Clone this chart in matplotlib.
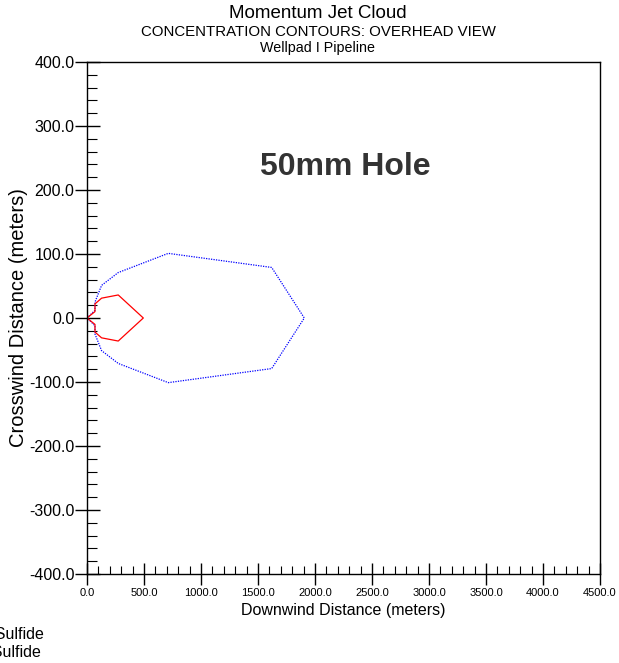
import matplotlib
matplotlib.use('Agg')
import matplotlib.pyplot as plt
import numpy as np

plt.rcParams['font.family'] = ['Liberation Sans', 'DejaVu Sans']

# contour outlines (downwind m, crosswind m), upper half
blue_x = [0, 70, 70, 128, 274, 713, 1620, 1906]
blue_y = [0, 12, 25, 51, 71, 101, 79, 0]
red_x = [0, 70, 70, 128, 274, 494]
red_y = [0, 10, 22, 31, 36, 0]

x_ticks = np.arange(0, 4501, 500)
y_ticks = np.arange(-400, 401, 100)
legend_names = ['Hydrogen Sulfide', 'Hydrogen Sulfide']


def mirror(xs, ys):
    # upper half then the lower half back to the origin
    return list(xs) + list(xs[::-1]), list(ys) + [-v for v in ys[::-1]]


W, H = 619, 663
fig = plt.figure(figsize=(W / 100, H / 100), dpi=100)
ax = fig.add_axes([87 / W, 1 - 574 / H, (600 - 87) / W, (574 - 62) / H])

bx, by = mirror(blue_x, blue_y)
rx, ry = mirror(red_x, red_y)
ax.plot(bx, by, color='blue', lw=0.9, dashes=(1, 1))
ax.plot(rx, ry, color='red', lw=0.9)

ax.set_xlim(0, 4500)
ax.set_ylim(-400, 400)
ax.set_xticks(x_ticks)
ax.set_xticks(np.arange(0, 4501, 100), minor=True)
ax.set_yticks(y_ticks)
ax.set_yticks(np.arange(-400, 401, 20), minor=True)
ax.set_xticklabels(['%.1f' % v for v in x_ticks], fontsize=8)
ax.set_yticklabels(['%.1f' % v for v in y_ticks], fontsize=11.5)
ax.tick_params(axis='x', which='major', direction='inout', length=16, width=1, pad=2)
ax.tick_params(axis='x', which='minor', direction='in', length=6, width=0.8)
ax.tick_params(axis='y', which='major', direction='inout', length=18, width=1, pad=0)
ax.tick_params(axis='y', which='minor', direction='in', length=7, width=0.8)
for s in ax.spines.values():
    s.set_linewidth(1)

ax.set_xlabel('Downwind Distance (meters)', fontsize=11.5, labelpad=4)
ax.set_ylabel('Crosswind Distance (meters)', fontsize=14.5, labelpad=1)

ax.text(2270, 236, '50mm Hole', fontsize=23, fontweight='bold',
        color='#333333', ha='center', va='center')

cx = 318 / W
fig.text(cx, 1 - 13 / H, 'Momentum Jet Cloud', fontsize=13.5, ha='center', va='center')
fig.text(cx, 1 - 32 / H, 'CONCENTRATION CONTOURS: OVERHEAD VIEW', fontsize=10.8,
         ha='center', va='center')
fig.text(cx, 1 - 48 / H, 'Wellpad I Pipeline', fontsize=10.3, ha='center', va='center')

fig.text(44 / W, 1 - 634 / H, legend_names[0], fontsize=11.5, ha='right', va='center')
fig.text(41 / W, 1 - 652 / H, legend_names[1], fontsize=11.5, ha='right', va='center')

fig.savefig('out.png', dpi=100)
